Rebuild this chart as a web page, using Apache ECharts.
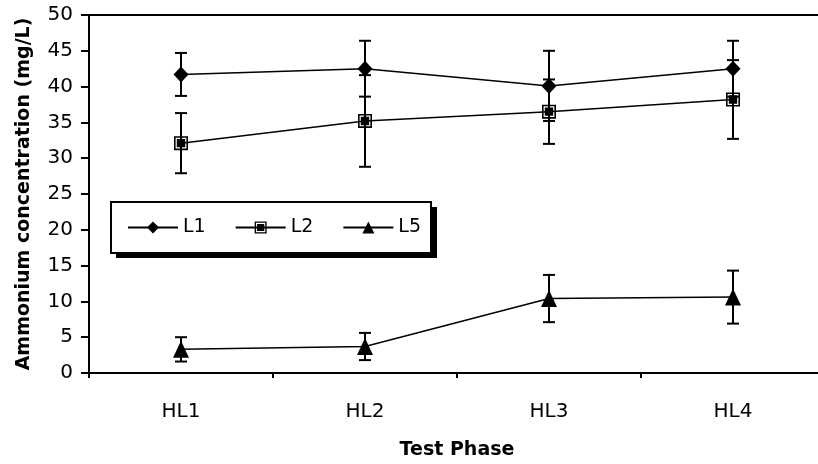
<!DOCTYPE html>
<html>
<head>
<meta charset="utf-8">
<script src="https://cdn.jsdelivr.net/npm/echarts@6/dist/echarts.min.js"></script>
<style>
  html, body { margin: 0; padding: 0; background: #fff; }
  #main { width: 818px; height: 464px; }
</style>
</head>
<body>
<div id="main"></div>
<script>
const phases = ['HL1', 'HL2', 'HL3', 'HL4'];
const yTicks = [0, 5, 10, 15, 20, 25, 30, 35, 40, 45, 50];

const l1 = [41.7, 42.5, 40.1, 42.5];
const l1Err = [3.0, 3.9, 4.9, 3.9];
const l2 = [32.1, 35.2, 36.5, 38.2];
const l2Err = [4.2, 6.4, 4.5, 5.5];
const l5 = [3.3, 3.7, 10.4, 10.6];
const l5Err = [1.7, 1.9, 3.3, 3.7];

const FONT = 'DejaVu Sans, sans-serif';
const squareIcon = 'path://M0 0H14V14H0ZM1.6 1.6V12.4H12.4V1.6ZM2.8 2.8H11.2V11.2H2.8Z';

function errData(vals, errs) {
    return vals.map((v, i) => [i, v - errs[i], v + errs[i]]);
}

function errSeries(vals, errs) {
    return {
        type: 'custom',
        data: errData(vals, errs),
        z: 3,
        silent: true,
        renderItem: (params, api) => {
            const lo = api.coord([api.value(0), api.value(1)]);
            const hi = api.coord([api.value(0), api.value(2)]);
            const w = 6;
            const style = { stroke: '#000', lineWidth: 2 };
            return {
                type: 'group',
                children: [
                    { type: 'line', shape: { x1: lo[0], y1: lo[1], x2: hi[0], y2: hi[1] }, style },
                    { type: 'line', shape: { x1: lo[0] - w, y1: lo[1], x2: lo[0] + w, y2: lo[1] }, style },
                    { type: 'line', shape: { x1: hi[0] - w, y1: hi[1], x2: hi[0] + w, y2: hi[1] }, style }
                ]
            };
        }
    };
}

function lineSeries(name, vals, symbol, size) {
    return {
        name: name,
        type: 'line',
        data: vals,
        symbol: symbol,
        symbolSize: size,
        z: 4,
        lineStyle: { color: '#000', width: 1.5 },
        itemStyle: { color: '#000', borderWidth: 0 }
    };
}

const chart = echarts.init(document.getElementById('main'));
chart.setOption({
    animation: false,
    backgroundColor: '#fff',
    textStyle: { fontFamily: FONT },
    grid: {
        left: 89, top: 15, width: 736, bottom: 91,
        outerBoundsMode: 'none',
        containLabel: false,
        show: true, borderColor: '#000', borderWidth: 2
    },
    // drop shadow behind the legend box
    graphic: [{
        type: 'rect',
        z: 0,
        silent: true,
        shape: { x: 116, y: 207, width: 321, height: 51 },
        style: { fill: '#000' }
    }],
    legend: {
        left: 111, top: 202,
        z: 10,
        data: ['L1', 'L2', 'L5'],
        orient: 'horizontal',
        itemWidth: 50, itemHeight: 15, itemGap: 29,
        padding: [16, 10, 16, 16],
        backgroundColor: '#fff',
        borderColor: '#000', borderWidth: 2, borderRadius: 0,
        textStyle: { fontFamily: FONT, fontSize: 19, color: '#000' }
    },
    xAxis: {
        type: 'category',
        data: phases,
        name: 'Test Phase',
        nameLocation: 'middle',
        nameGap: 68,
        nameTextStyle: { fontFamily: FONT, fontSize: 19, fontWeight: 'bold', color: '#000' },
        axisLine: { lineStyle: { color: '#000', width: 2 } },
        axisTick: { show: true, length: 5, lineStyle: { color: '#000', width: 2 } },
        axisLabel: { fontFamily: FONT, fontSize: 20, color: '#000', margin: 29 },
        splitLine: { show: false }
    },
    yAxis: {
        type: 'value',
        min: yTicks[0],
        max: yTicks[yTicks.length - 1],
        interval: 5,
        name: 'Ammonium concentration (mg/L)',
        nameLocation: 'middle',
        nameGap: 55,
        nameTextStyle: { fontFamily: FONT, fontSize: 19, fontWeight: 'bold', color: '#000' },
        axisLine: { show: true, lineStyle: { color: '#000', width: 2 } },
        axisTick: { show: true, length: 8, lineStyle: { color: '#000', width: 2 } },
        axisLabel: { fontFamily: FONT, fontSize: 20, color: '#000', margin: 16 },
        splitLine: { show: false }
    },
    series: [
        errSeries(l1, l1Err),
        errSeries(l2, l2Err),
        errSeries(l5, l5Err),
        lineSeries('L1', l1, 'diamond', [15, 16]),
        lineSeries('L2', l2, squareIcon, 14),
        lineSeries('L5', l5, 'triangle', [16, 17])
    ]
});
</script>
</body>
</html>
